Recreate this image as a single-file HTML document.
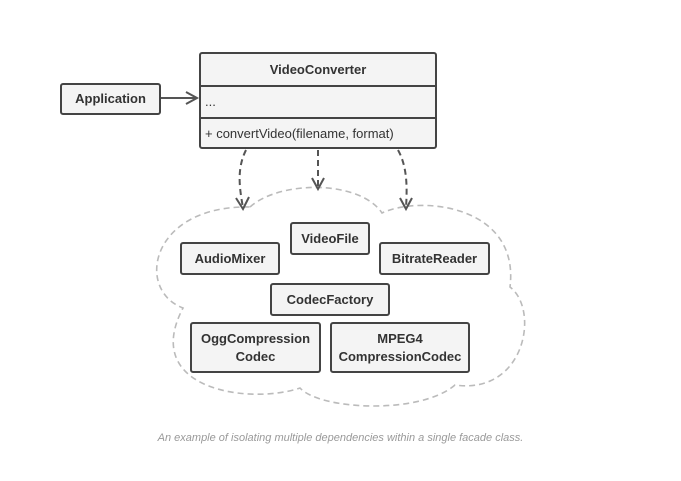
<!DOCTYPE html>
<html><head><style>
body{margin:0;background:#fff;width:681px;height:481px;overflow:hidden;font-family:"Liberation Sans",sans-serif}
.b{position:absolute;box-sizing:border-box;border:2px solid #444;border-radius:3px;background:#f4f4f4;color:#333;font-weight:bold;font-size:13px;display:flex;align-items:center;justify-content:center;text-align:center;line-height:18px}
</style></head><body>
<svg width="681" height="481" style="position:absolute;left:0;top:0">
<g fill="none" stroke="#bbb" stroke-width="1.6" stroke-dasharray="6,4">
<path d="M250,207 C280,180 360,180 382,213 C420,195 520,205 510,287 C540,310 525,395 455,385 C420,415 320,410 300,388 C250,405 140,390 183,308 C135,290 150,205 250,207 Z"/>
</g>
<g fill="none" stroke="#555" stroke-width="2" stroke-dasharray="6,4">
<path d="M246,150 C236,170 240,190 243,208"/>
<path d="M318,150 L318,188"/>
<path d="M398,150 C408,168 407,190 406,208"/>
</g>
<g fill="none" stroke="#555" stroke-width="2">
<path d="M236,198 L243,209 L249,197"/>
<path d="M312,178 L318,189 L324,178"/>
<path d="M400,198 L406,209 L412,198"/>
<path d="M160,98 L197,98 M186,92 L197,98 L186,104"/>
</g>
</svg>
<div class="b" style="left:60px;top:83px;width:101px;height:32px">Application</div>
<div class="b" style="left:199px;top:52px;width:238px;height:97px;display:block;background:#f4f4f4">
 <div style="height:31px;border-bottom:2px solid #444;display:flex;align-items:center;justify-content:center">VideoConverter</div>
 <div style="height:30px;border-bottom:2px solid #444;font-weight:normal;text-align:left;padding-left:4px;line-height:30px">...</div>
 <div style="height:30px;font-weight:normal;text-align:left;padding-left:4px;line-height:30px">+ convertVideo(filename, format)</div>
</div>
<div class="b" style="left:290px;top:222px;width:80px;height:33px">VideoFile</div>
<div class="b" style="left:180px;top:242px;width:100px;height:33px">AudioMixer</div>
<div class="b" style="left:379px;top:242px;width:111px;height:33px">BitrateReader</div>
<div class="b" style="left:270px;top:283px;width:120px;height:33px">CodecFactory</div>
<div class="b" style="left:190px;top:322px;width:131px;height:51px">OggCompression<br>Codec</div>
<div class="b" style="left:330px;top:322px;width:140px;height:51px">MPEG4<br>CompressionCodec</div>
<div style="position:absolute;left:0;width:681px;top:432px;text-align:center;font-size:11px;font-style:italic;color:#999">An example of isolating multiple dependencies within a single facade class.</div>
</body></html>
